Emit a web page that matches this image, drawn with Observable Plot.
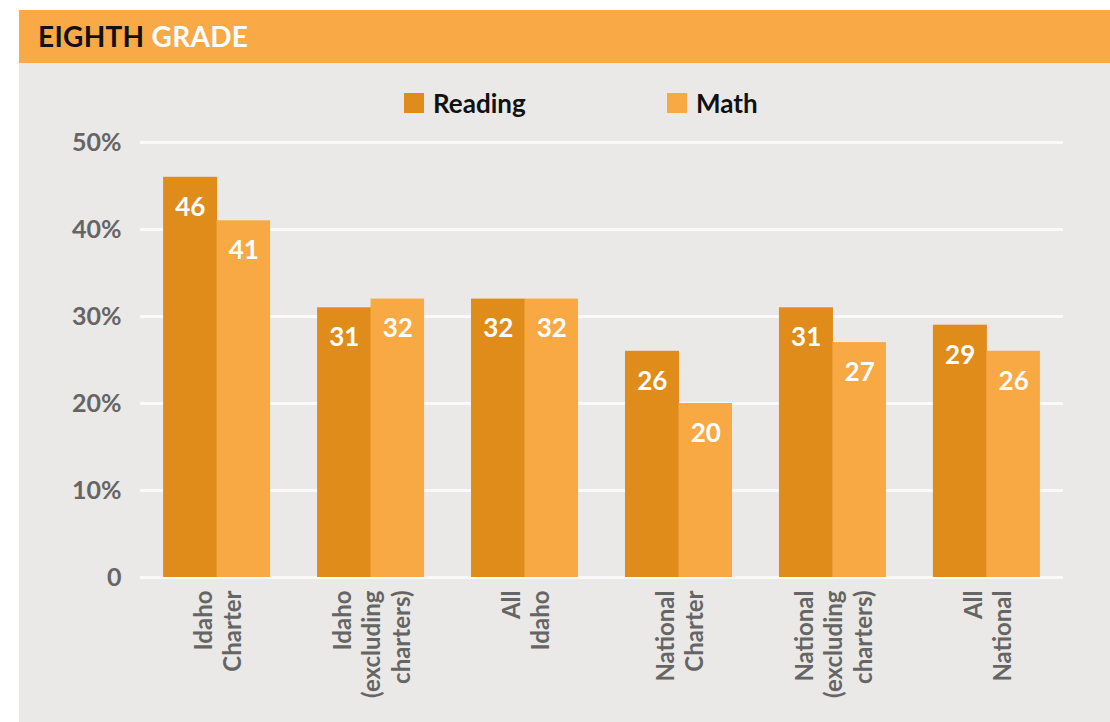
<!DOCTYPE html>
<html>
<head>
<meta charset="utf-8">
<script src="https://cdn.jsdelivr.net/npm/d3@7"></script>
<script src="https://cdn.jsdelivr.net/npm/@observablehq/plot@0.6"></script>
<style>
  html, body { margin: 0; padding: 0; background: #ffffff; }
  body { width: 1110px; height: 722px; position: relative; overflow: hidden; font-family: Lato, "Open Sans", sans-serif; }
  #card { position: absolute; left: 19px; top: 10px; width: 1091px; height: 712px; background: #EAE9E7; }
  #header { height: 53px; background: #F9AA46; line-height: 53px; padding-left: 19px; font-size: 28px; font-weight: 700; letter-spacing: 0.3px; }
  #header .dark { color: #111111; }
  #header .light { color: #ffffff; }
  #legend { position: relative; height: 62px; }
  .sw { position: absolute; top: 30px; width: 20px; height: 20px; }
  .lt { position: absolute; top: 20px; line-height: 40px; font-size: 26px; font-weight: 700; color: #111111; }
  #chart svg { display: block; }
</style>
</head>
<body>
<div id="card">
  <div id="header"><span class="dark">EIGHTH</span> <span class="light">GRADE</span></div>
  <div id="legend"></div>
  <div id="chart"></div>
</div>
<script>
// ---- data ----
const groups = ["Idaho Charter", "Idaho (excluding charters)", "All Idaho", "National Charter", "National (excluding charters)", "All National"];
const groupLabels = ["Idaho\nCharter", "Idaho\n(excluding\ncharters)", "All\nIdaho", "National\nCharter", "National\n(excluding\ncharters)", "All\nNational"];
const series = ["Reading", "Math"];
const readingValues = [46, 31, 32, 26, 31, 29];
const mathValues = [41, 32, 32, 20, 27, 26];
const yTicks = [0, 10, 20, 30, 40, 50];
const colors = ["#E08C1B", "#F8A944"];

// ---- layout constants ----
const W = 1091, H = 597, mL = 121, mR = 47, mT = 17, mB = 145;
const pInner = 0.305, pOuter = 0.15;
const step = (W - mL - mR) / (groups.length - pInner + 2 * pOuter);
const bw = step * (1 - pInner);
const half = bw / 2;

// ---- legend ----
const legend = document.getElementById("legend");
const legendPos = [[385, 414], [648, 677]];
series.forEach((s, i) => {
  const sw = document.createElement("div");
  sw.className = "sw";
  sw.style.left = legendPos[i][0] + "px";
  sw.style.background = colors[i];
  legend.appendChild(sw);
  const t = document.createElement("div");
  t.className = "lt";
  t.style.left = legendPos[i][1] + "px";
  t.textContent = s;
  legend.appendChild(t);
});

// ---- tables ----
const readingTable = groups.map((g, i) => ({group: g, series: "Reading", value: readingValues[i]}));
const mathTable = groups.map((g, i) => ({group: g, series: "Math", value: mathValues[i]}));
const labelTable = groups.map((g, i) => ({group: g, label: groupLabels[i]}));

const plot = Plot.plot({
  width: W,
  height: H,
  marginLeft: mL,
  marginRight: mR,
  marginTop: mT,
  marginBottom: mB,
  style: { background: "transparent", fontFamily: "Lato, 'Open Sans', sans-serif", overflow: "visible" },
  x: { domain: groups, paddingInner: pInner, paddingOuter: pOuter, round: false, axis: null },
  y: { domain: [0, 50], axis: null },
  color: { domain: series, range: colors },
  marks: [
    Plot.ruleY(yTicks, { y: d => d, stroke: "#FAFAFA", strokeWidth: 3 }),
    Plot.axisY({
      ticks: yTicks,
      tickSize: 0,
      tickPadding: 19,
      tickFormat: d => d === 0 ? "0" : d + "%",
      fontSize: 25,
      fontWeight: 700,
      fill: "#656565",
      label: null
    }),
    Plot.barY(readingTable, { x: "group", y: "value", fill: "series", insetRight: half - 0.5 }),
    Plot.barY(mathTable, { x: "group", y: "value", fill: "series", insetLeft: half }),
    Plot.text(readingTable, {
      x: "group", y: "value", text: d => String(d.value), dx: -half / 2,
      dy: 30, fill: "white", fontSize: 26, fontWeight: 700
    }),
    Plot.text(mathTable, {
      x: "group", y: "value", text: d => String(d.value), dx: half / 2,
      dy: 30, fill: "white", fontSize: 26, fontWeight: 700
    }),
    Plot.text(labelTable, {
      x: "group", text: "label", frameAnchor: "bottom", dy: 13,
      rotate: -90, textAnchor: "end", lineAnchor: "middle", lineHeight: 1.22,
      fontSize: 24, fontWeight: 700, fill: "#656565"
    })
  ]
});
document.getElementById("chart").appendChild(plot);
</script>
</body>
</html>
